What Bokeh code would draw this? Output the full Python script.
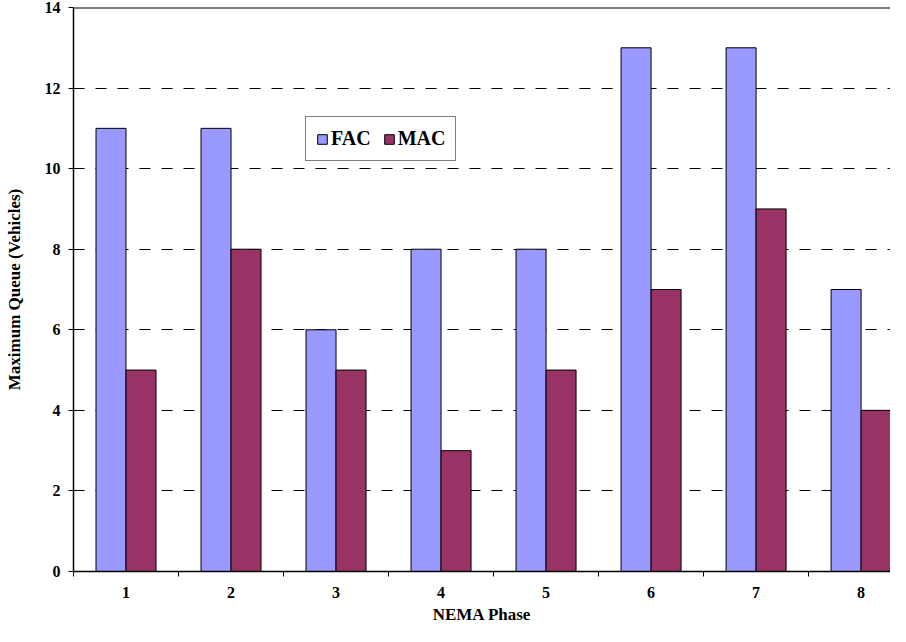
from bokeh.plotting import figure
from bokeh.models import FixedTicker, Span, Legend, LegendItem, ColumnDataSource
from bokeh.embed import file_html
from bokeh.resources import INLINE

phases = [1, 2, 3, 4, 5, 6, 7, 8]
fac = [11, 11, 6, 8, 8, 13, 13, 7]
mac = [5, 8, 5, 3, 5, 7, 9, 4]
y_ticks = [0, 2, 4, 6, 8, 10, 12, 14]

FONT = "Liberation Serif"
bar_w = 1 / 3.5

p = figure(width=890, height=626, output_backend="svg", toolbar_location=None,
           x_range=(0.5, 8.28), y_range=(0, 14),
           min_border_left=73, min_border_right=0, min_border_top=7, min_border_bottom=54)
p.outline_line_color = None
p.background_fill_color = "white"
p.border_fill_color = "white"

src = ColumnDataSource(dict(
    x_fac=[x - bar_w / 2 for x in phases], x_mac=[x + bar_w / 2 for x in phases],
    fac=fac, mac=mac))
r1 = p.vbar(x="x_fac", top="fac", width=bar_w, source=src, fill_color="#9999FF",
            line_color="black", line_width=1)
r2 = p.vbar(x="x_mac", top="mac", width=bar_w, source=src, fill_color="#993366",
            line_color="black", line_width=1)

# grid
p.xgrid.grid_line_color = None
p.ygrid.ticker = FixedTicker(ticks=y_ticks[1:-1])
p.ygrid.grid_line_color = "black"
p.ygrid.grid_line_dash = "11 11"
p.ygrid.grid_line_width = 1

p.add_layout(Span(location=14, dimension="width", line_color="black", line_width=2))

# x axis
p.xaxis.ticker = FixedTicker(ticks=phases, minor_ticks=[x + 0.5 for x in range(0, 9)])
p.xaxis.major_tick_out = 0
p.xaxis.major_tick_in = 0
p.xaxis.minor_tick_out = 5
p.xaxis.minor_tick_in = 0
p.xaxis.minor_tick_line_color = "black"
p.xaxis.axis_line_color = "black"
p.xaxis.axis_line_width = 1.5
p.xaxis.major_label_standoff = 10
p.xaxis.major_label_text_font = FONT
p.xaxis.major_label_text_font_style = "bold"
p.xaxis.major_label_text_font_size = "16px"
p.xaxis.major_label_text_color = "black"
p.xaxis.axis_label = "NEMA Phase"
p.xaxis.axis_label_text_font = FONT
p.xaxis.axis_label_text_font_style = "bold"
p.xaxis.axis_label_text_font_size = "17px"
p.xaxis.axis_label_text_color = "black"
p.xaxis.axis_label_standoff = 4

# y axis
p.yaxis.ticker = FixedTicker(ticks=y_ticks)
p.yaxis.major_tick_out = 5
p.yaxis.major_tick_in = 0
p.yaxis.minor_tick_line_color = None
p.yaxis.axis_line_color = "black"
p.yaxis.axis_line_width = 1.5
p.yaxis.major_tick_line_color = "black"
p.yaxis.major_label_standoff = 8
p.yaxis.major_label_text_font = FONT
p.yaxis.major_label_text_font_style = "bold"
p.yaxis.major_label_text_font_size = "16px"
p.yaxis.major_label_text_color = "black"
p.yaxis.axis_label = "Maximum Queue (Vehicles)"
p.yaxis.axis_label_text_font = FONT
p.yaxis.axis_label_text_font_style = "bold"
p.yaxis.axis_label_text_font_size = "17px"
p.yaxis.axis_label_text_color = "black"
p.yaxis.axis_label_standoff = 18

legend = Legend(items=[LegendItem(label="FAC", renderers=[r1]),
                       LegendItem(label="MAC", renderers=[r2])],
                location=(232, 410), orientation="horizontal",
                border_line_color="black", border_line_width=1.5,
                label_text_font=FONT, label_text_font_style="bold",
                label_text_font_size="20px", label_text_color="black",
                glyph_width=12, glyph_height=12, label_standoff=3, spacing=12,
                padding=10, margin=0, background_fill_alpha=1)
p.add_layout(legend, "center")

open("out.html", "w").write(file_html(p, INLINE))
